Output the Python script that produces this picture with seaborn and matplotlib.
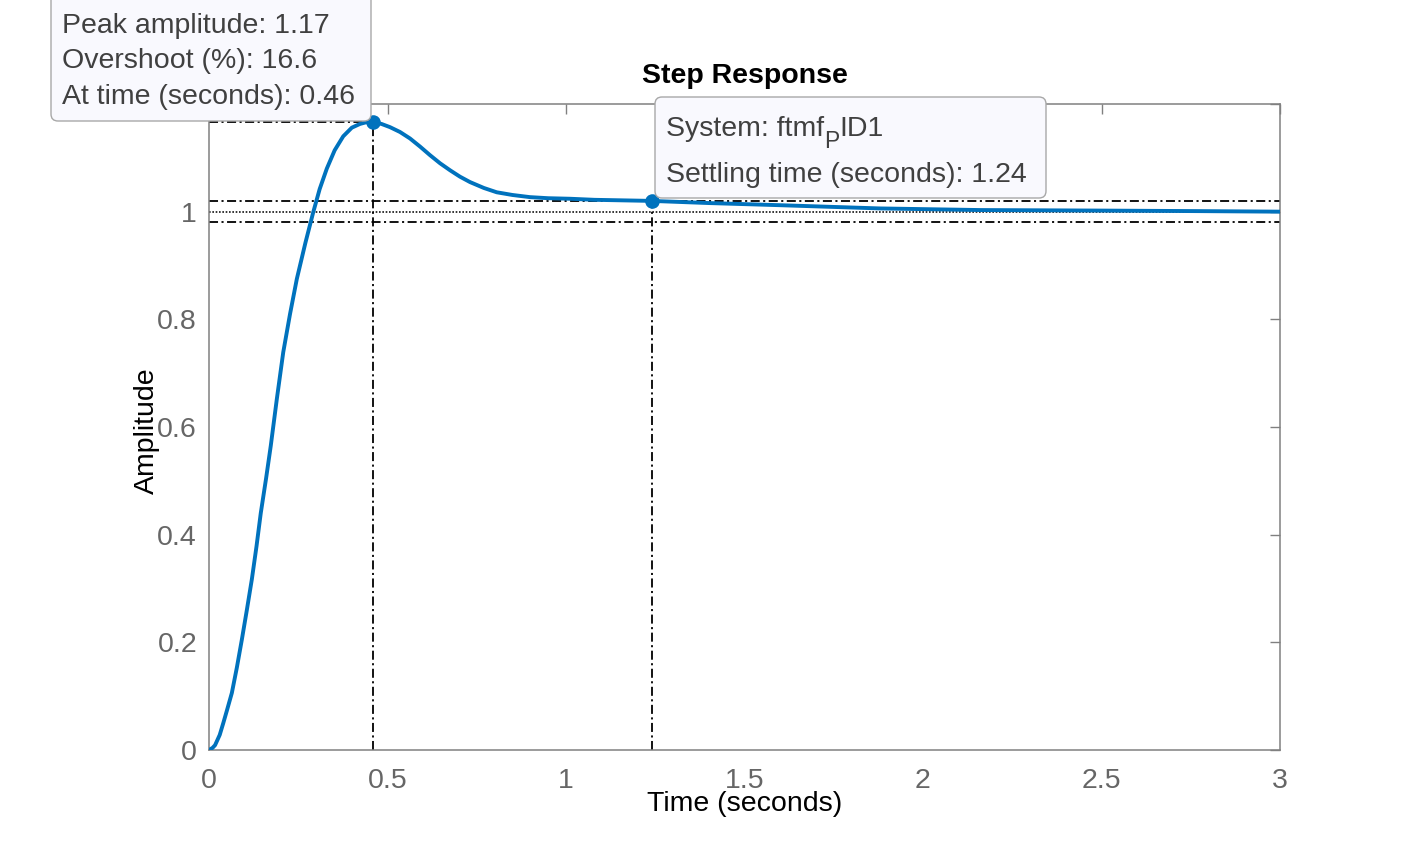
import numpy as np
import pandas as pd
import seaborn as sns
import matplotlib.pyplot as plt
from matplotlib.patches import FancyBboxPatch
from matplotlib.transforms import IdentityTransform

# step response
time_s = [0, 0.01, 0.017, 0.03, 0.04, 0.05, 0.064, 0.078, 0.092, 0.106,
          0.12, 0.133, 0.145, 0.16, 0.173, 0.19, 0.208, 0.227, 0.246, 0.27,
          0.292, 0.31, 0.33, 0.352, 0.376, 0.4, 0.423, 0.44, 0.46, 0.483,
          0.507, 0.535, 0.563, 0.591, 0.619, 0.647, 0.675, 0.703, 0.731, 0.77,
          0.806, 0.85, 0.899, 0.95, 1.011, 1.08, 1.16, 1.24, 1.4, 1.6,
          1.74, 1.88, 2.16, 2.5, 2.78, 3.0]
amplitude = [0, 0.004, 0.009, 0.028, 0.05, 0.073, 0.106, 0.153, 0.205, 0.26,
             0.317, 0.378, 0.44, 0.505, 0.565, 0.652, 0.739, 0.81, 0.875, 0.942,
             0.999, 1.042, 1.08, 1.114, 1.14, 1.156, 1.163, 1.166, 1.166, 1.163,
             1.157, 1.148, 1.136, 1.121, 1.105, 1.09, 1.077, 1.065, 1.055, 1.044,
             1.036, 1.031, 1.027, 1.025, 1.024, 1.022, 1.021, 1.02, 1.016, 1.012,
             1.009, 1.006, 1.003, 1.002, 1.001, 1.0]

peak_time = 0.46
peak_amp = 1.166
settle_time = 1.24
settle_amp = 1.02
final_value = 1.0
settle_band = [0.98, 1.02]

x_ticks = [0, 0.5, 1, 1.5, 2, 2.5, 3]
x_tick_labels = ['0', '0.5', '1', '1.5', '2', '2.5', '3']
y_ticks = [0, 0.2, 0.4, 0.6, 0.8, 1, 1.2]
y_tick_labels = ['0', '0.2', '0.4', '0.6', '0.8', '1', '1.2']

peak_lines = ['Peak amplitude: 1.17', 'Overshoot (%): 16.6', 'At time (seconds): 0.46']
system_parts = ['System: ftmf', 'P', 'ID1']
settle_line = 'Settling time (seconds): 1.24'

df = pd.DataFrame({'time': time_s, 'amp': amplitude})
marks = pd.DataFrame({'time': [peak_time, settle_time], 'amp': [peak_amp, settle_amp]})

sns.set_style('white')
plt.rcParams['font.family'] = ['Liberation Sans', 'DejaVu Sans']
plt.rcParams['lines.scale_dashes'] = False

W, H = 1415, 844
fig = plt.figure(figsize=(W / 100, H / 100), dpi=100)
ax = fig.add_axes([209 / W, 94 / H, 1071 / W, 646 / H])

blue = '#0072BD'
dashdot = (0, (6.5, 2.5, 1.5, 2.5))
dotted = (0, (1.2, 1.2))

# guide lines
for lvl in settle_band:
    ax.axhline(lvl, color='black', lw=1.3, ls=dashdot, zorder=1)
ax.axhline(final_value, color='black', lw=1.1, ls=dotted, zorder=1)
ax.vlines(peak_time, 0, peak_amp, color='black', lw=1.3, ls=dashdot, zorder=1)
ax.hlines(peak_amp, 0, peak_time, color='black', lw=1.3, ls=dashdot, zorder=1)
ax.vlines(settle_time, 0, settle_amp, color='black', lw=1.3, ls=dashdot, zorder=1)

sns.lineplot(data=df, x='time', y='amp', ax=ax, color=blue, linewidth=2.8, zorder=3)
ax.lines[-1].set_solid_joinstyle('round')
ax.lines[-1].set_solid_capstyle('round')
sns.scatterplot(data=marks, x='time', y='amp', ax=ax, color=blue, s=110,
                edgecolor=blue, linewidth=0, zorder=4, clip_on=False)

ax.set_xlim(0, 3)
ax.set_ylim(0, 1.2)
ax.set_xticks(x_ticks, x_tick_labels)
ax.set_yticks(y_ticks, y_tick_labels)
ax.tick_params(direction='in', length=7.2, width=1, color='#808080',
               labelcolor='#666666', labelsize=20.5, top=True, right=True)
ax.tick_params(axis='x', pad=13)
ax.tick_params(axis='y', pad=8.6)
for sp in ax.spines.values():
    sp.set_color('#808080')
    sp.set_linewidth(1.1)

ax.set_xlabel('Time (seconds)', fontsize=20.5, color='black')
ax.set_ylabel('Amplitude', fontsize=20.5, color='black')
ax.xaxis.set_label_coords(0.5, -0.0635)
ax.yaxis.set_label_coords(-0.0462, 0.495)
ax.set_title('Step Response', fontsize=20.5, fontweight='bold', color='black', pad=15)

# data tips (pixel coordinates, y from bottom)
box_fc = '#f9f9fe'
box_ec = '#a8a8a8'
tip1 = FancyBboxPatch((51, H - 121), 320, 160, boxstyle='round,pad=0,rounding_size=7',
                      transform=IdentityTransform(), fc=box_fc, ec=box_ec, lw=1, zorder=5)
tip2 = FancyBboxPatch((655, H - 198), 391, 101, boxstyle='round,pad=0,rounding_size=7',
                      transform=IdentityTransform(), fc=box_fc, ec=box_ec, lw=1, zorder=5)
fig.patches.extend([tip1, tip2])

txt_kw = dict(color='#404040', va='baseline', ha='left', zorder=6)
for i, line in enumerate(peak_lines):
    fig.text(62 / W, (H - (33 + 35.5 * i)) / H, line, fontsize=20.5, **txt_kw)

# "System: ftmf_P ID1" with a MATLAB-style subscript
renderer = fig.canvas.get_renderer()
t0 = fig.text(666 / W, (H - 136) / H, system_parts[0], fontsize=20.5, **txt_kw)
x_end = t0.get_window_extent(renderer).x1
t1 = fig.text(x_end / W, (H - 148) / H, system_parts[1], fontsize=16.5, **txt_kw)
x_end = t1.get_window_extent(renderer).x1
fig.text(x_end / W, (H - 136) / H, system_parts[2], fontsize=20.5, **txt_kw)
fig.text(666 / W, (H - 182) / H, settle_line, fontsize=20.5, **txt_kw)

fig.savefig('out.png', dpi=100)
